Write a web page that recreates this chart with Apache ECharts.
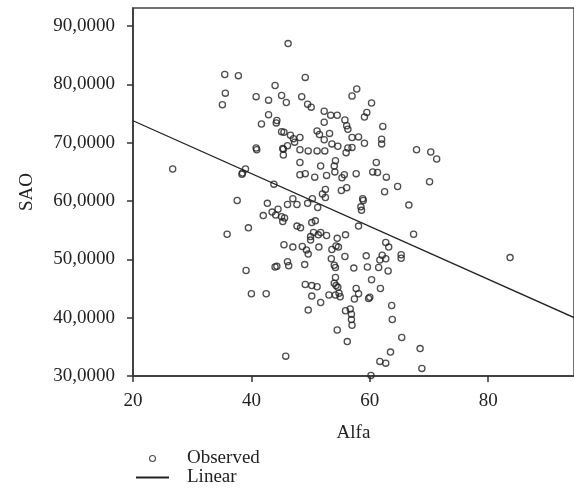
<!DOCTYPE html>
<html><head><meta charset="utf-8">
<script src="https://cdn.jsdelivr.net/npm/echarts@6/dist/echarts.min.js"></script>
<style>html,body{margin:0;padding:0;background:#fff}#c{width:574px;height:491px}</style>
</head><body><div id="c"></div>
<script>
// Observed points [Alfa, SAO]
const observed = [
[35.5,81.7],[37.8,81.5],[35.6,78.5],[35.1,76.5],[40.8,77.9],[42.9,77.3],[44.0,79.8],[42.9,74.8],[41.7,73.2],[44.2,73.4],[40.8,69.1],[40.9,68.8],
[46.2,87.0],[49.1,81.2],[45.1,78.1],[45.9,76.9],[48.5,77.9],[49.5,76.6],[50.1,76.1],[44.3,73.8],[45.1,71.9],[45.5,71.8],[46.6,71.3],[47.1,70.7],[47.3,70.1],[48.2,70.9],[46.1,69.5],[45.3,69.0],
[52.3,75.4],[52.3,73.5],[53.4,74.7],[54.5,74.7],[55.8,73.9],[56.1,72.9],[56.3,72.3],[51.1,72.0],[51.5,71.4],[53.2,71.6],[52.3,70.5],[53.6,69.8],[54.6,69.4],[57.0,70.9],[58.1,71.0],[59.1,69.9],
[57.0,78.0],[57.8,79.2],[60.3,76.8],[59.5,75.2],[59.1,74.4],[62.2,72.8],[62.0,70.6],[62.0,69.8],
[67.9,68.8],[70.3,68.4],[71.3,67.2],[70.1,63.3],[66.6,59.3],[67.4,54.3],[83.7,50.3],
[26.7,65.5],[39.0,65.5],[38.4,64.6],[38.5,64.8],[43.8,62.9],[37.6,60.1],[42.7,59.6],[43.5,58.1],[44.1,57.6],[44.5,58.6],[42.0,57.5],[39.5,55.4],[35.9,54.3],[44.0,48.7],[39.1,48.1],
[40.0,44.1],[42.5,44.1],
[45.4,68.9],[48.2,68.8],[49.6,68.6],[51.1,68.6],[52.4,68.6],[56.0,68.3],[56.3,69.1],[57.0,69.2],[45.4,67.9],
[48.2,66.6],[51.7,66.0],[54.0,66.0],[54.2,66.9],[54.1,65.0],[61.1,66.6],[60.5,65.0],[61.3,64.9],[62.8,64.1],[57.7,64.7],[55.7,64.5],[55.3,64.0],[48.2,64.5],[49.1,64.7],[50.7,64.1],[52.7,64.4],
[64.7,62.5],[62.5,61.6],[56.1,62.3],[55.2,61.8],[52.5,62.0],[52.0,61.2],[52.5,60.6],[58.8,60.4],[58.9,60.1],[58.5,59.0],[58.6,58.4],
[46.1,59.4],[47.0,60.4],[47.7,59.4],[49.5,59.6],[50.3,60.4],[51.2,58.9],[45.1,57.3],[45.6,57.1],[45.3,56.5],[47.7,55.7],[48.3,55.4],[50.2,56.3],[50.8,56.6],[58.1,55.7],
[50.0,53.9],[50.5,54.6],[51.3,54.2],[51.7,54.6],[52.7,54.1],[54.5,53.6],[55.9,54.2],[45.5,52.5],[47.0,52.1],[48.6,52.2],[49.3,51.6],[49.6,50.9],[50.0,53.3],[51.4,52.1],[53.6,51.7],[54.3,52.3],[54.7,52.1],
[62.7,52.9],[63.2,52.1],[59.4,50.6],[55.8,50.5],[53.5,50.1],[62.1,50.7],[62.7,50.1],[61.7,49.9],[65.3,50.8],[65.3,50.2],
[44.3,48.8],[46.1,49.6],[46.3,48.9],[49.0,49.1],[54.0,49.0],[54.2,48.6],[57.3,48.5],[59.6,48.7],[61.5,48.6],[63.1,48.0],[54.2,46.9],[60.3,46.5],
[49.1,45.7],[50.2,45.5],[51.1,45.3],[54.0,45.9],[54.3,45.5],[54.6,45.2],[57.7,45.0],[61.8,45.0],
[50.2,43.7],[51.7,42.6],[49.6,41.3],[53.1,43.9],[54.2,43.9],[54.8,44.2],[55.0,43.6],[58.1,44.1],[57.4,43.2],[59.8,43.3],[60.0,43.5],
[63.7,42.1],[63.8,39.7],[65.4,36.6],[63.5,34.1],[61.7,32.5],[62.7,32.2],[60.2,30.1],
[55.9,41.2],[56.7,41.5],[56.9,40.6],[56.9,39.7],[57.0,38.7],[54.5,37.9],[56.2,35.9],[45.8,33.4],
[68.5,34.7],[68.8,31.3]
];
// Linear fit line end points
const fitX = [20, 94.5];
const fitY = [73.77, 40.02];
const xTicks = [20, 40, 60, 80];
const yTicks = [30, 40, 50, 60, 70, 80, 90];

const FONT = 'Liberation Serif';
const axisCol = '#333';
const chart = echarts.init(document.getElementById('c'));
chart.setOption({
  animation: false,
  backgroundColor: '#fff',
  grid: { left: 133, top: 8, right: -6, bottom: 115, show: true, borderColor: '#444', borderWidth: 1.5, backgroundColor: 'transparent' },
  legend: {
    orient: 'vertical', left: 135, top: 449, itemWidth: 33, itemHeight: 6, itemGap: 0, padding: 0,
    textStyle: { fontFamily: FONT, fontSize: 19, color: '#222', lineHeight: 19, padding: [0, 0, 0, 13] },
    data: [
      { name: 'Observed', itemStyle: { borderWidth: 1.1 } },
      { name: 'Linear', itemStyle: { opacity: 0 } }
    ]
  },
  xAxis: {
    type: 'value', min: 20, max: 94.5,
    name: 'Alfa', nameLocation: 'middle', nameGap: 48,
    nameTextStyle: { fontFamily: FONT, fontSize: 19, color: '#222' },
    axisLine: { show: true, lineStyle: { color: axisCol, width: 1.5 } },
    axisTick: { show: true, length: 6, customValues: xTicks, lineStyle: { color: axisCol, width: 1.5 } },
    axisLabel: { customValues: xTicks, margin: 16, fontFamily: FONT, fontSize: 19, color: '#222' },
    splitLine: { show: false }
  },
  yAxis: {
    type: 'value', min: 30, max: 93.1,
    name: 'SAO', nameLocation: 'middle', nameGap: 96,
    nameTextStyle: { fontFamily: FONT, fontSize: 19, color: '#222' },
    axisLine: { show: true, lineStyle: { color: axisCol, width: 1.5 } },
    axisTick: { show: true, length: 6, customValues: yTicks, lineStyle: { color: axisCol, width: 1.5 } },
    axisLabel: { customValues: yTicks, margin: 18, fontFamily: FONT, fontSize: 19, color: '#222',
      formatter: v => v.toFixed(4).replace('.', ',') },
    splitLine: { show: false }
  },
  series: [
    { name: 'Observed', type: 'scatter', data: observed, symbol: 'circle', symbolSize: 6.2,
      itemStyle: { color: 'rgba(255,255,255,0)', borderColor: '#222', borderWidth: 1.3 } },
    { name: 'Linear', type: 'line', data: fitX.map((x, i) => [x, fitY[i]]), symbol: 'none', showSymbol: false,
      lineStyle: { color: '#222', width: 1.3 }, itemStyle: { color: '#222' } }
  ]
});
</script>
</body></html>
